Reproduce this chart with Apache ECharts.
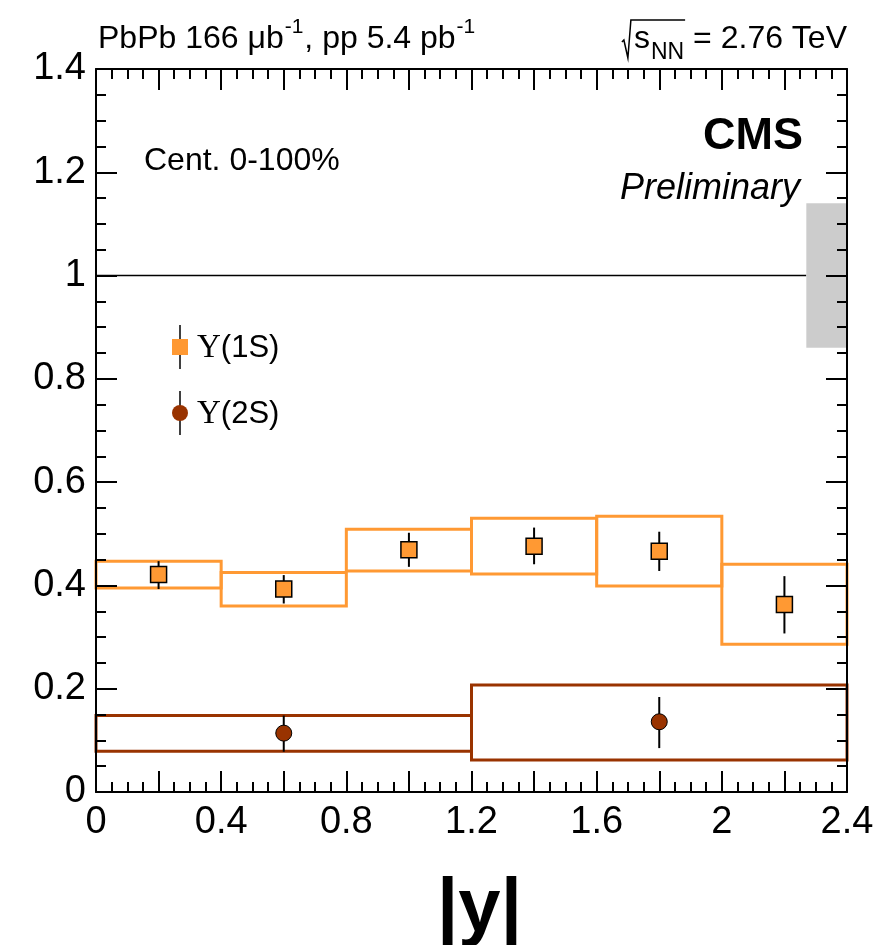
<!DOCTYPE html>
<html>
<head>
<meta charset="utf-8">
<script src="https://cdn.jsdelivr.net/npm/echarts@6/dist/echarts.min.js"></script>
<style>html,body{margin:0;padding:0;background:#fff}#c{width:882px;height:945px}</style>
</head>
<body>
<div id="c"></div>
<script>
// ---- data ----
var binEdges1S = [0, 0.4, 0.8, 1.2, 1.6, 2.0, 2.4];
var centers1S = [0.2, 0.6, 1.0, 1.4, 1.8, 2.2];
var values1S = [0.421, 0.393, 0.469, 0.476, 0.466, 0.363];
var statLo1S = [0.393, 0.365, 0.436, 0.441, 0.428, 0.307];
var statHi1S = [0.447, 0.420, 0.502, 0.512, 0.504, 0.418];
var systLo1S = [0.395, 0.360, 0.428, 0.422, 0.399, 0.286];
var systHi1S = [0.447, 0.425, 0.509, 0.530, 0.534, 0.441];

var binEdges2S = [0, 1.2, 2.4];
var centers2S = [0.6, 1.8];
var values2S = [0.114, 0.136];
var statLo2S = [0.078, 0.085];
var statHi2S = [0.148, 0.184];
var systLo2S = [0.079, 0.062];
var systHi2S = [0.148, 0.207];

var globalUnc = [2.27, 2.4, 0.86, 1.14];
var refLine = [[0, 1], [2.27, 1]];

var xTickLabels = ['0', '0.4', '0.8', '1.2', '1.6', '2', '2.4'];

var orange = '#ff9933';
var brown = '#993300';

function boxData(edges, lo, hi) {
  var d = [];
  for (var i = 0; i < lo.length; i++) d.push([edges[i], edges[i + 1], lo[i], hi[i]]);
  return d;
}
function errData(c, lo, hi) {
  var d = [];
  for (var i = 0; i < c.length; i++) d.push([c[i], lo[i], hi[i]]);
  return d;
}
function zip(a, b) { return a.map(function (v, i) { return [v, b[i]]; }); }

function renderBox(color, fill) {
  return function (params, api) {
    var p0 = api.coord([api.value(0), api.value(3)]);
    var p1 = api.coord([api.value(1), api.value(2)]);
    return {
      type: 'rect',
      shape: { x: p0[0], y: p0[1], width: p1[0] - p0[0], height: p1[1] - p0[1] },
      style: fill ? { fill: color, stroke: null } : { fill: null, stroke: color, lineWidth: 3 }
    };
  };
}
function renderErr(params, api) {
  var a = api.coord([api.value(0), api.value(1)]);
  var b = api.coord([api.value(0), api.value(2)]);
  return { type: 'line', shape: { x1: a[0], y1: a[1], x2: b[0], y2: b[1] }, style: { stroke: '#000', lineWidth: 2 } };
}

var FF = '"Liberation Sans", Arial, Helvetica, sans-serif';
var SERIF = '"Liberation Serif", "DejaVu Serif", serif';
var mctx = document.createElement('canvas').getContext('2d');
function tw(text, size, weight, family) {
  mctx.font = (weight || 'normal') + ' ' + size + 'px ' + (family || FF);
  return mctx.measureText(text).width;
}
function txt(text, x, y, size, opts) {
  opts = opts || {};
  return { type: 'text', x: x, y: y, z: 100, style: {
    text: text, fontSize: size, fontFamily: opts.family || FF, fontWeight: opts.weight || 'normal',
    fontStyle: opts.style || 'normal', fill: '#000', align: opts.align || 'left', verticalAlign: 'middle' } };
}

// ---- header texts laid out piece by piece ----
var graphics = [];
(function () {
  var big = 32, sup = 21, x = 98, yc = 39, ys = 27;
  var pieces = [['PbPb 166 μb', big, yc], ['-1', sup, ys], [', pp 5.4 pb', big, yc], ['-1', sup, ys]];
  pieces.forEach(function (p) {
    graphics.push(txt(p[0], x, p[2], p[1]));
    x += tw(p[0], p[1]) + 1;
  });
  // sqrt(s_NN) = 2.76 TeV
  var right = 847;
  var rest = '= 2.76 TeV';
  var restW = tw(rest, big);
  graphics.push(txt(rest, right, yc, big, { align: 'right' }));
  var nnW = tw('NN', 23);
  var nnX = right - restW - 9 - nnW;
  graphics.push(txt('NN', nnX, 53, 23));
  var sW = tw('s', big);
  var sX = nnX - sW - 1;
  graphics.push(txt('s', sX, yc, big));
  var r0 = sX - 3;
  graphics.push({ type: 'polyline', z: 100, shape: { points: [[r0 - 9, 42], [r0 - 7, 40], [r0 - 3, 58], [r0, 20], [nnX + nnW + 1, 20]] },
    style: { stroke: '#000', lineWidth: 1.5, fill: null } });
})();

graphics.push(txt('CMS', 803, 137, 45, { weight: 'bold', align: 'right' }));
graphics.push(txt('Preliminary', 800, 189, 36, { style: 'italic', align: 'right' }));
graphics.push(txt('Cent. 0-100%', 144, 161, 32));

// legend
graphics.push({ type: 'line', z: 100, shape: { x1: 180, y1: 325, x2: 180, y2: 369 }, style: { stroke: '#000', lineWidth: 1.5 } });
graphics.push({ type: 'rect', z: 101, shape: { x: 172, y: 339, width: 16, height: 16 }, style: { fill: orange } });
graphics.push({ type: 'line', z: 100, shape: { x1: 180, y1: 391, x2: 180, y2: 435 }, style: { stroke: '#000', lineWidth: 1.5 } });
graphics.push({ type: 'circle', z: 101, shape: { cx: 180, cy: 413, r: 8 }, style: { fill: brown } });
[['(1S)', 348], ['(2S)', 414]].forEach(function (l) {
  graphics.push(txt('Υ', 197, l[1], 33, { family: SERIF }));
  graphics.push(txt(l[0], 197 + tw('Υ', 33, 'normal', SERIF), l[1], 31));
});

var axisCommon = {
  type: 'value', z: 10,
  axisLine: { show: true, onZero: false, lineStyle: { color: '#000', width: 2 } },
  axisTick: { show: true, inside: true, length: 21, lineStyle: { color: '#000', width: 2 } },
  minorTick: { show: true, splitNumber: 4, length: 10, lineStyle: { color: '#000', width: 2 } },
  splitLine: { show: false }
};

var chart = echarts.init(document.getElementById('c'));
chart.setOption({
  animation: false,
  backgroundColor: '#fff',
  grid: { left: 96, right: 35, top: 69, bottom: 153, containLabel: false, outerBoundsMode: 'none' },
  xAxis: [
    Object.assign({}, axisCommon, {
      position: 'bottom', min: 0, max: 2.4, interval: 0.2,
      axisLabel: {
        color: '#000', fontSize: 38, fontFamily: FF, margin: 12, hideOverlap: false,
        formatter: function (v) {
          var k = Math.round(v / 0.4);
          return Math.abs(v - k * 0.4) < 1e-6 ? xTickLabels[k] : '';
        }
      },
      name: '|y|', nameLocation: 'middle', nameGap: 80,
      nameTextStyle: { color: '#000', fontSize: 76, fontWeight: 'bold', fontFamily: FF, padding: [0, 0, 0, 16] }
    }),
    Object.assign({}, axisCommon, {
      position: 'top', min: 0, max: 2.4, interval: 0.2, axisLabel: { show: false }
    })
  ],
  yAxis: [
    Object.assign({}, axisCommon, {
      position: 'left', min: 0, max: 1.4, interval: 0.2,
      axisLabel: { color: '#000', fontSize: 38, fontFamily: FF, margin: 10, hideOverlap: false,
        formatter: function (v) { return String(Math.round(v * 10) / 10); } }
    }),
    Object.assign({}, axisCommon, {
      position: 'right', min: 0, max: 1.4, interval: 0.2, axisLabel: { show: false }
    })
  ],
  series: [
    { type: 'line', data: refLine, symbol: 'none', lineStyle: { color: '#000', width: 1.5 }, z: 1, silent: true },
    { type: 'custom', data: [globalUnc], renderItem: renderBox('#cccccc', true), z: 2, silent: true },
    { type: 'custom', data: boxData(binEdges1S, systLo1S, systHi1S), renderItem: renderBox(orange, false), z: 3 },
    { type: 'custom', data: boxData(binEdges2S, systLo2S, systHi2S), renderItem: renderBox(brown, false), z: 3 },
    { type: 'custom', data: errData(centers1S, statLo1S, statHi1S), renderItem: renderErr, z: 4 },
    { type: 'custom', data: errData(centers2S, statLo2S, statHi2S), renderItem: renderErr, z: 4 },
    { type: 'scatter', data: zip(centers1S, values1S), symbol: 'rect', symbolSize: 16,
      itemStyle: { color: orange, borderColor: '#000', borderWidth: 1.5, opacity: 1 }, z: 5 },
    { type: 'scatter', data: zip(centers2S, values2S), symbol: 'circle', symbolSize: 16,
      itemStyle: { color: brown, borderColor: '#000', borderWidth: 1, opacity: 1 }, z: 5 }
  ],
  graphic: graphics
});
</script>
</body>
</html>
